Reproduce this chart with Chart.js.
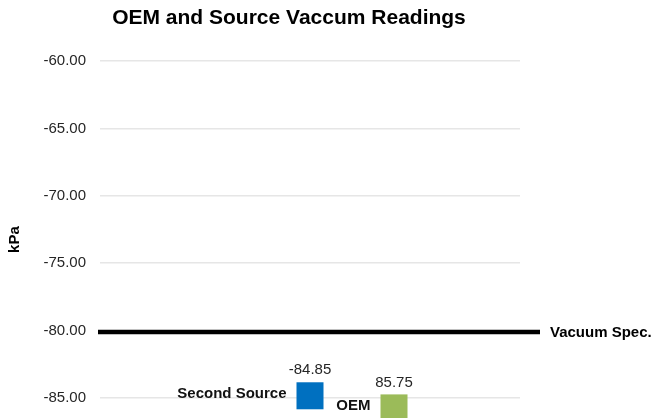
<!DOCTYPE html>
<html>
<head>
<meta charset="utf-8">
<style>
  html, body { margin: 0; padding: 0; background: #fff; overflow: hidden; }
  #wrap { width: 660px; height: 418px; }
</style>
<script src="https://cdn.jsdelivr.net/npm/chart.js@4"></script>
</head>
<body>
<div id="wrap"><canvas id="c" width="660" height="418"></canvas></div>
<script>
// Slots along the (hidden) x axis; readings sit in the named slots.
const categories = ['', '', 'Second Source', 'OEM', ''];
const seriesNames = ['Second Source', 'OEM'];
const readings = [-84.85, -85.75];
const readingLabels = ['-84.85', '85.75'];
const yTickValues = [-60, -65, -70, -75, -80, -85];
const specValue = -80;
const specLabel = 'Vacuum Spec.';

const FONT = '"Liberation Sans", Arial, Helvetica, sans-serif';
const seriesColors = ['#0070C0', '#9BBB59'];
const Y_MIN = -86.5, Y_MAX = -60;

Chart.defaults.font.family = FONT;

// Thick reference line for the vacuum specification plus its label.
const specLinePlugin = {
  id: 'specLine',
  beforeDatasetsDraw(chart) {
    const {ctx, chartArea, scales} = chart;
    const y = scales.y.getPixelForValue(specValue);
    const end = chartArea.right + 20;
    ctx.save();
    ctx.strokeStyle = '#000';
    ctx.lineWidth = 4.5;
    ctx.beginPath();
    ctx.moveTo(chartArea.left - 2, y + 1.5);
    ctx.lineTo(end, y + 1.5);
    ctx.stroke();
    ctx.font = 'bold 15px ' + FONT;
    ctx.fillStyle = '#000';
    ctx.textAlign = 'left';
    ctx.textBaseline = 'middle';
    ctx.fillText(specLabel, end + 10, y + 2.5);
    ctx.restore();
  }
};

// Value above each marker and series name to its left.
const pointLabelPlugin = {
  id: 'pointLabels',
  afterDatasetsDraw(chart) {
    const ctx = chart.ctx;
    chart.data.datasets.forEach((ds, i) => {
      const pt = chart.getDatasetMeta(i).data[0];
      if (!pt) return;
      const half = ds.pointRadius * Math.SQRT1_2;
      ctx.save();
      ctx.textBaseline = 'middle';
      ctx.font = '15px ' + FONT;
      ctx.fillStyle = '#262626';
      ctx.textAlign = 'center';
      ctx.fillText(readingLabels[i], pt.x, pt.y - half - 12);
      ctx.font = 'bold 15px ' + FONT;
      ctx.fillStyle = '#111';
      ctx.textAlign = 'right';
      ctx.fillText(ds.label, pt.x - half - 10, pt.y - 2);
      ctx.restore();
    });
  }
};

new Chart(document.getElementById('c'), {
  type: 'line',
  data: {
    labels: categories,
    datasets: seriesNames.map((name, i) => ({
      label: name,
      data: [{x: name, y: readings[i]}],
      showLine: false,
      pointStyle: 'rect',
      pointRadius: 19.1,
      pointHoverRadius: 19.1,
      pointBackgroundColor: seriesColors[i],
      pointBorderColor: seriesColors[i],
      pointBorderWidth: 0,
      clip: false,
      yAxisID: 'y'
    }))
  },
  options: {
    responsive: false,
    devicePixelRatio: 1,
    animation: false,
    events: [],
    layout: {autoPadding: false, padding: {top: 0, left: 0, right: 82, bottom: 0}},
    plugins: {
      legend: {display: false},
      tooltip: {enabled: false},
      title: {
        display: true,
        text: 'OEM and Source Vaccum Readings',
        color: '#000',
        font: {size: 21, weight: 'bold', family: FONT},
        padding: {top: 6, bottom: 30}
      }
    },
    scales: {
      x: {
        type: 'category',
        offset: true,
        display: false
      },
      y: {
        type: 'linear',
        position: 'left',
        min: Y_MIN,
        max: Y_MAX,
        afterBuildTicks: s => { s.ticks = yTickValues.map(v => ({value: v})); },
        afterFit: s => { s.width = 100; s.paddingTop = 0; s.paddingBottom = 0; },
        grid: {color: '#e6e6e6', lineWidth: 1.5, drawTicks: false},
        border: {display: false},
        ticks: {
          padding: 14,
          color: '#262626',
          font: {size: 15, family: FONT},
          callback: v => Number(v).toFixed(2)
        },
        title: {
          display: true,
          text: 'kPa',
          color: '#000',
          font: {size: 15, weight: 'bold', family: FONT},
          padding: {top: 6, bottom: 0}
        }
      },
      // Right-hand margin that holds the spec label.
      ySpec: {
        type: 'linear',
        position: 'right',
        min: Y_MIN,
        max: Y_MAX,
        afterFit: s => { s.width = 58; s.paddingTop = 0; s.paddingBottom = 0; },
        grid: {drawOnChartArea: false, drawTicks: false},
        border: {display: false},
        ticks: {display: false}
      }
    }
  },
  plugins: [specLinePlugin, pointLabelPlugin]
});
</script>
</body>
</html>
